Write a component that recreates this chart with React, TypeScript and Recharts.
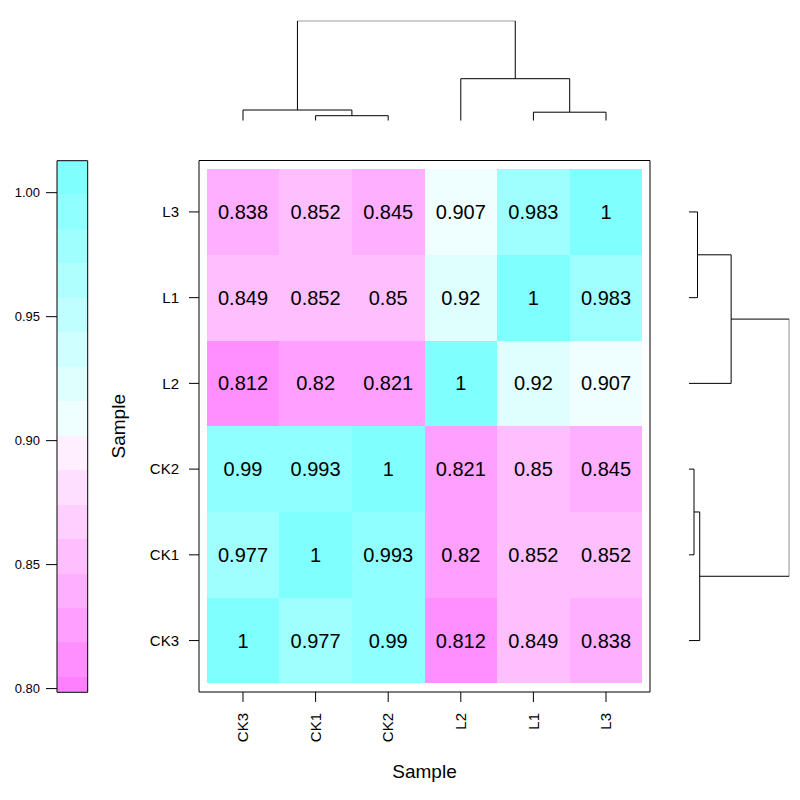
import React from 'react';
import { ScatterChart, Scatter, XAxis, YAxis, ReferenceArea } from 'recharts';

// samples in plotting order (columns left->right, rows bottom->top)
const samples = ['CK3', 'CK1', 'CK2', 'L2', 'L1', 'L3'];
const positions = [1, 2, 3, 4, 5, 6];

// correlation values, one row per sample, columns in the same order
const rowCK3 = [1, 0.977, 0.99, 0.812, 0.849, 0.838];
const rowCK1 = [0.977, 1, 0.993, 0.82, 0.852, 0.852];
const rowCK2 = [0.99, 0.993, 1, 0.821, 0.85, 0.845];
const rowL2 = [0.812, 0.82, 0.821, 1, 0.92, 0.907];
const rowL1 = [0.849, 0.852, 0.85, 0.92, 1, 0.983];
const rowL3 = [0.838, 0.852, 0.845, 0.907, 0.983, 1];
const rows = [rowCK3, rowCK1, rowCK2, rowL2, rowL1, rowL3];

// colour key breaks and colours
const keyBreaks = [0.7985, 0.8047, 0.8186, 0.8325, 0.8464, 0.8603, 0.8742, 0.8881, 0.902,
  0.9159, 0.9298, 0.9437, 0.9576, 0.9715, 0.9854, 0.9993, 1.0129];
const keyColors = ['#FF80FF', '#FF8FFF', '#FF9FFF', '#FFAFFF', '#FFBFFF', '#FFCFFF', '#FFDFFF', '#FFEFFF',
  '#EFFFFF', '#DFFFFF', '#CFFFFF', '#BFFFFF', '#AFFFFF', '#9FFFFF', '#8FFFFF', '#80FFFF'];
const keyTicks = [0.8, 0.85, 0.9, 0.95, 1.0];

// hierarchical clustering merges (height in arbitrary units)
const merges = [
  { id: 'm1', left: 'CK1', right: 'CK2', height: 5 },
  { id: 'm2', left: 'CK3', right: 'm1', height: 10.7 },
  { id: 'm3', left: 'L1', right: 'L3', height: 8.5 },
  { id: 'm4', left: 'L2', right: 'm3', height: 42 },
  { id: 'm5', left: 'm2', right: 'm4', height: 100 },
];

const FONT = '"Liberation Sans", Arial, Helvetica, sans-serif';
const X_DOMAIN = [0.394, 6.606];
const Y_DOMAIN = [0.4, 6.6];

const colorFor = (v: number) => {
  for (let i = 0; i < keyColors.length; i++) {
    if (v >= keyBreaks[i] && v < keyBreaks[i + 1]) return keyColors[i];
  }
  return keyColors[keyColors.length - 1];
};

const cells = rows.flatMap((row, r) => row.map((v, c) => ({ x: c + 1, y: r + 1, v })));

// node positions and heights for the dendrogram
const nodePos: Record<string, number> = {};
const nodeH: Record<string, number> = {};
samples.forEach((s, i) => { nodePos[s] = i + 1; nodeH[s] = 0; });
merges.forEach((m) => {
  nodePos[m.id] = (nodePos[m.left] + nodePos[m.right]) / 2;
  nodeH[m.id] = m.height;
});
const segments = merges.map((m) => [
  { p: nodePos[m.left], h: nodeH[m.left] },
  { p: nodePos[m.left], h: m.height },
  { p: nodePos[m.right], h: m.height },
  { p: nodePos[m.right], h: nodeH[m.right] },
]);

const Empty = () => <g />;

const ValueLabel = (p: any) => (
  <text x={p.cx} y={p.cy} dy="0.35em" textAnchor="middle" fontSize={20} fill="#000">
    {p.payload.v}
  </text>
);

const BottomTick = (p: any) => (
  <text
    x={p.x}
    y={p.y}
    dy="0.35em"
    textAnchor="end"
    fontSize={15}
    fill="#000"
    transform={`rotate(-90 ${p.x} ${p.y})`}
  >
    {samples[p.payload.value - 1]}
  </text>
);

const lineStyle = { stroke: '#000', strokeWidth: 1 };

const Heatmap = () => (
  <ScatterChart width={800} height={800} margin={{ top: 150.5, right: 140, bottom: 17, left: 99 }}>
    <XAxis
      xAxisId="b"
      type="number"
      dataKey="x"
      domain={X_DOMAIN}
      allowDataOverflow
      ticks={positions}
      tick={<BottomTick />}
      tickSize={10}
      tickMargin={11}
      height={91}
      stroke="#000"
      label={{ value: 'Sample', position: 'insideBottom', offset: 4.7, fontSize: 19, fill: '#000' }}
    />
    <XAxis
      xAxisId="t"
      orientation="top"
      type="number"
      dataKey="x"
      domain={X_DOMAIN}
      allowDataOverflow
      ticks={positions}
      tick={false}
      tickSize={10}
      height={10}
      stroke="#000"
    />
    <YAxis
      yAxisId="l"
      type="number"
      dataKey="y"
      domain={Y_DOMAIN}
      allowDataOverflow
      ticks={positions}
      tickFormatter={(v: number) => samples[v - 1]}
      tick={{ fontSize: 15, fill: '#000' }}
      tickSize={10}
      tickMargin={10}
      width={100}
      stroke="#000"
      label={{
        value: 'Sample',
        angle: -90,
        position: 'insideLeft',
        offset: 19.4,
        fontSize: 19,
        fill: '#000',
        style: { textAnchor: 'middle' },
      }}
    />
    <YAxis
      yAxisId="r"
      orientation="right"
      type="number"
      dataKey="y"
      domain={Y_DOMAIN}
      allowDataOverflow
      ticks={positions}
      tick={false}
      tickSize={10}
      width={10}
      stroke="#000"
    />
    {cells.map((c) => (
      <ReferenceArea
        key={`${c.x}-${c.y}`}
        xAxisId="b"
        yAxisId="l"
        x1={c.x - 0.5}
        x2={c.x + 0.5}
        y1={c.y - 0.5}
        y2={c.y + 0.5}
        fill={colorFor(c.v)}
        fillOpacity={1}
        stroke="none"
        shapeRendering="crispEdges"
      />
    ))}
    <Scatter xAxisId="b" yAxisId="l" data={cells} shape={ValueLabel} isAnimationActive={false} />
    <Scatter xAxisId="t" yAxisId="r" data={cells} shape={Empty} isAnimationActive={false} />
  </ScatterChart>
);

const TopDendrogram = () => (
  <ScatterChart width={800} height={130} margin={{ top: 20.7, right: 150, bottom: 9.3, left: 199 }}>
    <XAxis type="number" dataKey="p" domain={X_DOMAIN} allowDataOverflow hide />
    <YAxis type="number" dataKey="h" domain={[0, 100]} allowDataOverflow hide />
    {segments.map((seg, i) => (
      <Scatter key={i} data={seg} line={lineStyle} shape={Empty} isAnimationActive={false} />
    ))}
  </ScatterChart>
);

const RightDendrogram = () => (
  <ScatterChart width={160} height={800} margin={{ top: 160.5, right: 10.7, bottom: 108, left: 49 }}>
    <XAxis type="number" dataKey="h" domain={[0, 100]} allowDataOverflow hide />
    <YAxis type="number" dataKey="p" domain={Y_DOMAIN} allowDataOverflow hide />
    {segments.map((seg, i) => (
      <Scatter key={i} data={seg} line={lineStyle} shape={Empty} isAnimationActive={false} />
    ))}
  </ScatterChart>
);

const ColorKey = () => (
  <ScatterChart width={110} height={800} margin={{ top: 160.7, right: 22.3, bottom: 107.7, left: 0 }}>
    <XAxis type="number" dataKey="x" domain={[0, 1]} allowDataOverflow hide />
    <YAxis
      type="number"
      dataKey="y"
      domain={[keyBreaks[0], keyBreaks[keyBreaks.length - 1]]}
      allowDataOverflow
      ticks={keyTicks}
      tickFormatter={(v: number) => v.toFixed(2)}
      tick={{ fontSize: 13, fill: '#000' }}
      tickSize={11}
      tickMargin={6}
      axisLine={false}
      width={57}
      stroke="#000"
    />
    {keyColors.map((col, i) => (
      <ReferenceArea
        key={i}
        y1={keyBreaks[i]}
        y2={keyBreaks[i + 1]}
        fill={col}
        fillOpacity={1}
        stroke="none"
        shapeRendering="crispEdges"
      />
    ))}
    <ReferenceArea
      y1={keyBreaks[0]}
      y2={keyBreaks[keyBreaks.length - 1]}
      fill="none"
      stroke="#000"
      strokeWidth={1}
    />
    <Scatter data={[{ x: 0.5, y: 0.9 }]} shape={Empty} isAnimationActive={false} />
  </ScatterChart>
);

export default function App() {
  return (
    <div
      style={{
        position: 'absolute',
        left: 0,
        top: 0,
        width: 800,
        height: 800,
        background: '#fff',
        fontFamily: FONT,
      }}
    >
      <div style={{ position: 'absolute', left: 0, top: 0 }}>
        <Heatmap />
      </div>
      <div style={{ position: 'absolute', left: 0, top: 0 }}>
        <TopDendrogram />
      </div>
      <div style={{ position: 'absolute', left: 640, top: 0 }}>
        <RightDendrogram />
      </div>
      <div style={{ position: 'absolute', left: 0, top: 0 }}>
        <ColorKey />
      </div>
    </div>
  );
}
